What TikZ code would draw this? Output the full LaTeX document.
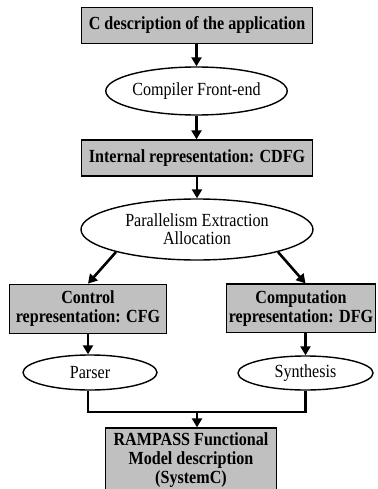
\documentclass[tikz,border=0pt]{standalone}
\usepackage{fontspec}
\setmainfont[FakeStretch=0.87]{Liberation Serif}
\usetikzlibrary{arrows.meta,shapes.geometric,calc}
\definecolor{boxgray}{RGB}{192,192,192}
\begin{document}
\begin{tikzpicture}[x=1pt,y=-1pt,
  every node/.style={inner sep=0pt, align=center},
  stage/.style={draw, fill=boxgray, line width=1.3pt,
    font=\fontsize{18.5}{19}\selectfont\bfseries},
  task/.style={draw, ellipse, fill=white, line width=1.4pt,
    font=\fontsize{18.5}{18}\selectfont},
  flow/.style={line width=2.6pt, -{Triangle[length=9pt,width=10pt]}},
  link/.style={line width=2.6pt}]
\useasboundingbox (0,0) rectangle (377,489);
\clip (0,0) rectangle (377,489);

% stages and tasks
\node[stage, minimum width=230.5pt, minimum height=36pt] (src) at (197,25.3) {C description of the application};
\node[task, minimum width=181pt, minimum height=48pt] (fe) at (196.5,91) {Compiler Front-end};
\node[stage, minimum width=230.5pt, minimum height=36pt] (ir) at (197,158) {Internal representation: CDFG};
\node[task, minimum width=232pt, minimum height=61pt] (pe) at (197,229.5) {Parallelism Extraction\\Allocation};
\node[stage, minimum width=157.5pt, minimum height=49pt] (cfg) at (88,308.8) {Control\\representation: CFG};
\node[stage, minimum width=148.5pt, minimum height=48.5pt] (dfg) at (301,308.3) {Computation\\representation: DFG};
\node[task, minimum width=134pt, minimum height=35pt] (par) at (90,372.5) {Parser};
\node[task, minimum width=135pt, minimum height=34pt] (syn) at (305.5,373) {Synthesis};
\node[stage, minimum width=171pt, minimum height=64pt] (out) at (191,460) {RAMPASS Functional\\Model description\\(SystemC)};

% connectors
\draw[flow] (src.south -| fe.north) -- (fe.north);
\draw[flow] (fe.south) -- (ir.north -| fe.south);
\draw[flow] (ir.south) -- (pe.north);
\coordinate (pel) at ($(pe.center)+(-81,22.5)$);
\coordinate (per) at ($(pe.center)+(81,22.5)$);
\draw[flow] (pel) -- (cfg.north);
\draw[flow] (per) -- ($(dfg.north)+(4.5,0)$);
\draw[flow] (cfg.south) -- (cfg.south |- par.north);
\draw[flow] ($(dfg.south)+(4.5,0)$) -- (syn.north);
\coordinate (join) at (197,412);
\draw[link] (par.south -| cfg.south) |- (join) -| (syn.south);
\draw[flow] (join) -- (join |- out.north);
\end{tikzpicture}
\end{document}
